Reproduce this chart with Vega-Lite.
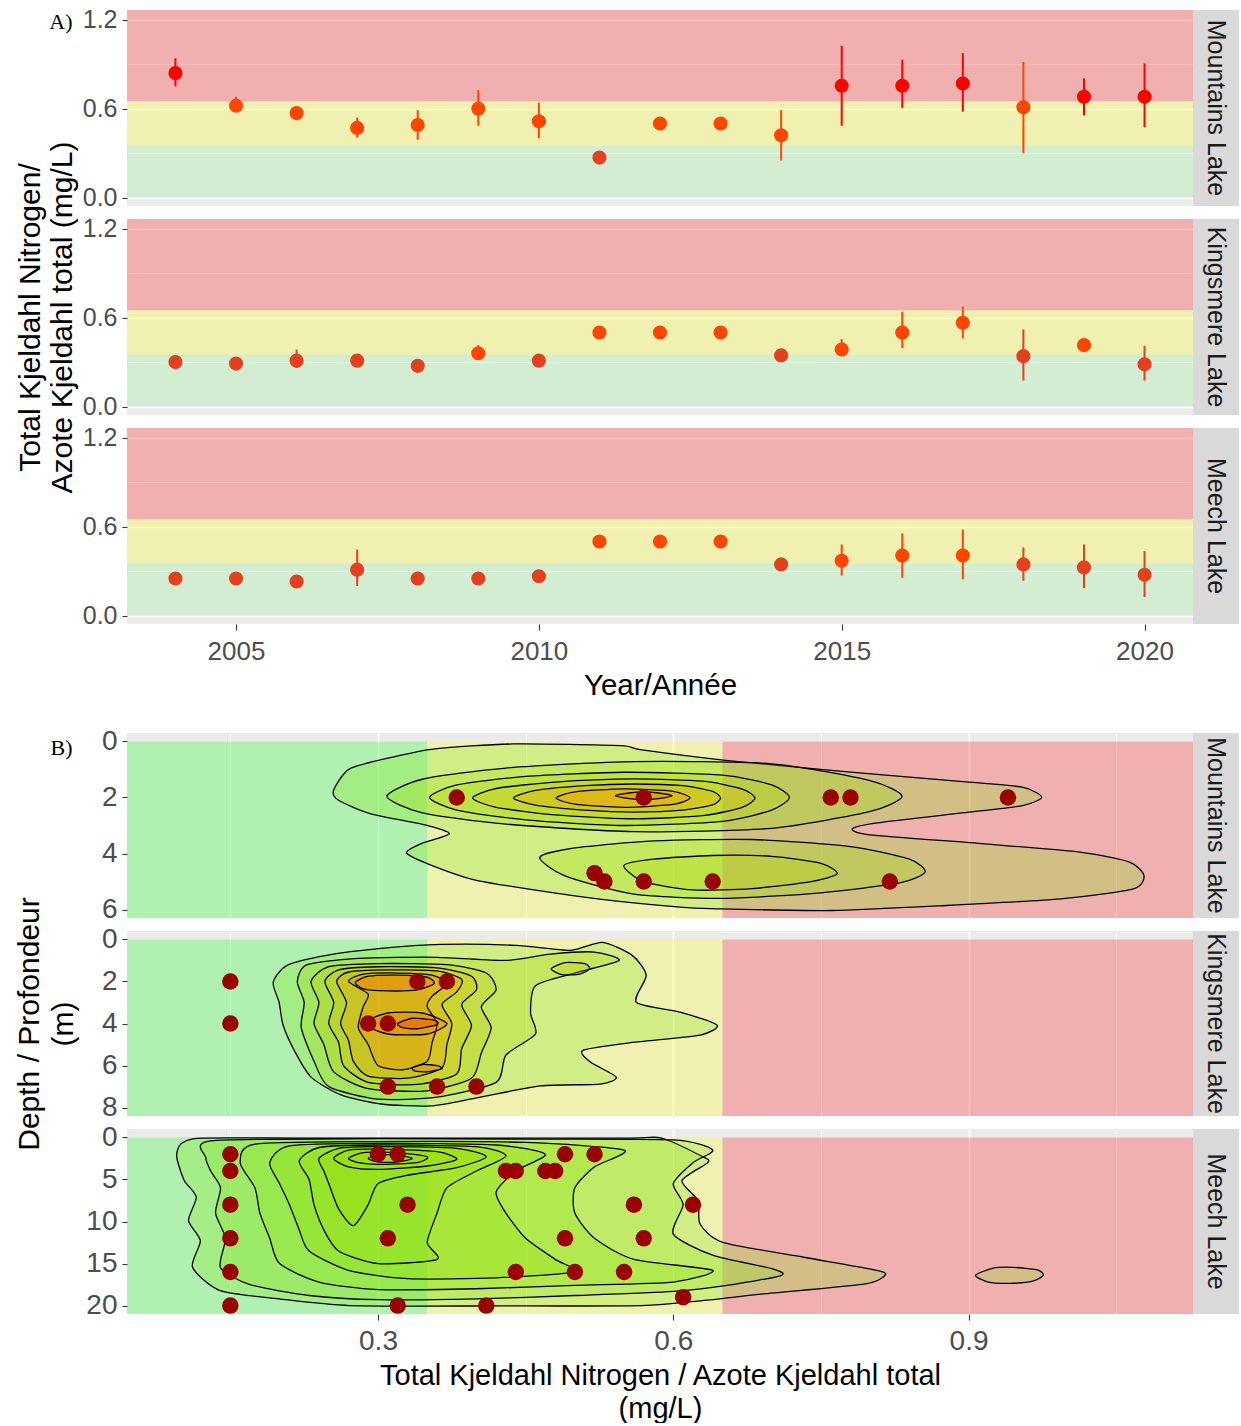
{
  "$schema": "https://vega.github.io/schema/vega-lite/v6.json",
  "background": "#ffffff",
  "padding": {"left": 14, "top": 7, "right": 0, "bottom": 0},
  "spacing": 27,
  "datasets": {
    "lakes": [{"lake": "Mountains Lake"}, {"lake": "Kingsmere Lake"}, {"lake": "Meech Lake"}],
    "bands_a": [
      {"band": "good", "lo": 0, "hi": 0.35},
      {"band": "fair", "lo": 0.35, "hi": 0.65},
      {"band": "poor", "lo": 0.65, "hi": 1.266}
    ],
    "bands_b": [
      {"band": "good", "lo": 0.045, "hi": 0.35},
      {"band": "fair", "lo": 0.35, "hi": 0.65},
      {"band": "poor", "lo": 0.65, "hi": 1.128}
    ],
    "annual": [
      {"lake": "Mountains Lake", "year": 2004, "tkn": 0.84, "lo": 0.75, "hi": 0.94},
      {"lake": "Mountains Lake", "year": 2005, "tkn": 0.62, "lo": 0.58, "hi": 0.68},
      {"lake": "Mountains Lake", "year": 2006, "tkn": 0.57},
      {"lake": "Mountains Lake", "year": 2007, "tkn": 0.47, "lo": 0.405, "hi": 0.54},
      {"lake": "Mountains Lake", "year": 2008, "tkn": 0.49, "lo": 0.39, "hi": 0.59},
      {"lake": "Mountains Lake", "year": 2009, "tkn": 0.6, "lo": 0.485, "hi": 0.725},
      {"lake": "Mountains Lake", "year": 2010, "tkn": 0.515, "lo": 0.4, "hi": 0.64},
      {"lake": "Mountains Lake", "year": 2011, "tkn": 0.27},
      {"lake": "Mountains Lake", "year": 2012, "tkn": 0.5},
      {"lake": "Mountains Lake", "year": 2013, "tkn": 0.5},
      {"lake": "Mountains Lake", "year": 2014, "tkn": 0.42, "lo": 0.25, "hi": 0.59},
      {"lake": "Mountains Lake", "year": 2015, "tkn": 0.755, "lo": 0.485, "hi": 1.025},
      {"lake": "Mountains Lake", "year": 2016, "tkn": 0.755, "lo": 0.605, "hi": 0.93},
      {"lake": "Mountains Lake", "year": 2017, "tkn": 0.77, "lo": 0.58, "hi": 0.975},
      {"lake": "Mountains Lake", "year": 2018, "tkn": 0.61, "lo": 0.3, "hi": 0.915},
      {"lake": "Mountains Lake", "year": 2019, "tkn": 0.68, "lo": 0.555, "hi": 0.805},
      {"lake": "Mountains Lake", "year": 2020, "tkn": 0.68, "lo": 0.475, "hi": 0.905},
      {"lake": "Kingsmere Lake", "year": 2004, "tkn": 0.3},
      {"lake": "Kingsmere Lake", "year": 2005, "tkn": 0.29},
      {"lake": "Kingsmere Lake", "year": 2006, "tkn": 0.31, "lo": 0.26, "hi": 0.385},
      {"lake": "Kingsmere Lake", "year": 2007, "tkn": 0.31},
      {"lake": "Kingsmere Lake", "year": 2008, "tkn": 0.275},
      {"lake": "Kingsmere Lake", "year": 2009, "tkn": 0.36, "lo": 0.33, "hi": 0.415},
      {"lake": "Kingsmere Lake", "year": 2010, "tkn": 0.31},
      {"lake": "Kingsmere Lake", "year": 2011, "tkn": 0.5},
      {"lake": "Kingsmere Lake", "year": 2012, "tkn": 0.5},
      {"lake": "Kingsmere Lake", "year": 2013, "tkn": 0.5},
      {"lake": "Kingsmere Lake", "year": 2014, "tkn": 0.345},
      {"lake": "Kingsmere Lake", "year": 2015, "tkn": 0.385, "lo": 0.34, "hi": 0.455},
      {"lake": "Kingsmere Lake", "year": 2016, "tkn": 0.5, "lo": 0.395, "hi": 0.64},
      {"lake": "Kingsmere Lake", "year": 2017, "tkn": 0.565, "lo": 0.46, "hi": 0.675},
      {"lake": "Kingsmere Lake", "year": 2018, "tkn": 0.34, "lo": 0.175, "hi": 0.52},
      {"lake": "Kingsmere Lake", "year": 2019, "tkn": 0.415},
      {"lake": "Kingsmere Lake", "year": 2020, "tkn": 0.285, "lo": 0.175, "hi": 0.41},
      {"lake": "Meech Lake", "year": 2004, "tkn": 0.25},
      {"lake": "Meech Lake", "year": 2005, "tkn": 0.25},
      {"lake": "Meech Lake", "year": 2006, "tkn": 0.23},
      {"lake": "Meech Lake", "year": 2007, "tkn": 0.31, "lo": 0.2, "hi": 0.445},
      {"lake": "Meech Lake", "year": 2008, "tkn": 0.25},
      {"lake": "Meech Lake", "year": 2009, "tkn": 0.25},
      {"lake": "Meech Lake", "year": 2010, "tkn": 0.265},
      {"lake": "Meech Lake", "year": 2011, "tkn": 0.5},
      {"lake": "Meech Lake", "year": 2012, "tkn": 0.5},
      {"lake": "Meech Lake", "year": 2013, "tkn": 0.5},
      {"lake": "Meech Lake", "year": 2014, "tkn": 0.345},
      {"lake": "Meech Lake", "year": 2015, "tkn": 0.37, "lo": 0.27, "hi": 0.48},
      {"lake": "Meech Lake", "year": 2016, "tkn": 0.405, "lo": 0.255, "hi": 0.555},
      {"lake": "Meech Lake", "year": 2017, "tkn": 0.405, "lo": 0.245, "hi": 0.58},
      {"lake": "Meech Lake", "year": 2018, "tkn": 0.345, "lo": 0.235, "hi": 0.46},
      {"lake": "Meech Lake", "year": 2019, "tkn": 0.325, "lo": 0.185, "hi": 0.48},
      {"lake": "Meech Lake", "year": 2020, "tkn": 0.275, "lo": 0.125, "hi": 0.435}
    ],
    "samples": [
      {"lake": "Mountains Lake", "tkn": 0.38, "depth": 2},
      {"lake": "Mountains Lake", "tkn": 0.57, "depth": 2},
      {"lake": "Mountains Lake", "tkn": 0.76, "depth": 2},
      {"lake": "Mountains Lake", "tkn": 0.78, "depth": 2},
      {"lake": "Mountains Lake", "tkn": 0.94, "depth": 2},
      {"lake": "Mountains Lake", "tkn": 0.52, "depth": 4.7},
      {"lake": "Mountains Lake", "tkn": 0.53, "depth": 5},
      {"lake": "Mountains Lake", "tkn": 0.57, "depth": 5},
      {"lake": "Mountains Lake", "tkn": 0.64, "depth": 5},
      {"lake": "Mountains Lake", "tkn": 0.82, "depth": 5},
      {"lake": "Kingsmere Lake", "tkn": 0.15, "depth": 2},
      {"lake": "Kingsmere Lake", "tkn": 0.34, "depth": 2},
      {"lake": "Kingsmere Lake", "tkn": 0.37, "depth": 2},
      {"lake": "Kingsmere Lake", "tkn": 0.15, "depth": 4},
      {"lake": "Kingsmere Lake", "tkn": 0.29, "depth": 4},
      {"lake": "Kingsmere Lake", "tkn": 0.31, "depth": 4},
      {"lake": "Kingsmere Lake", "tkn": 0.31, "depth": 7},
      {"lake": "Kingsmere Lake", "tkn": 0.36, "depth": 7},
      {"lake": "Kingsmere Lake", "tkn": 0.4, "depth": 7},
      {"lake": "Meech Lake", "tkn": 0.15, "depth": 2},
      {"lake": "Meech Lake", "tkn": 0.15, "depth": 4},
      {"lake": "Meech Lake", "tkn": 0.15, "depth": 8},
      {"lake": "Meech Lake", "tkn": 0.15, "depth": 12},
      {"lake": "Meech Lake", "tkn": 0.15, "depth": 16},
      {"lake": "Meech Lake", "tkn": 0.15, "depth": 20},
      {"lake": "Meech Lake", "tkn": 0.3, "depth": 2},
      {"lake": "Meech Lake", "tkn": 0.32, "depth": 2},
      {"lake": "Meech Lake", "tkn": 0.33, "depth": 8},
      {"lake": "Meech Lake", "tkn": 0.31, "depth": 12},
      {"lake": "Meech Lake", "tkn": 0.32, "depth": 20},
      {"lake": "Meech Lake", "tkn": 0.43, "depth": 4},
      {"lake": "Meech Lake", "tkn": 0.44, "depth": 4},
      {"lake": "Meech Lake", "tkn": 0.47, "depth": 4},
      {"lake": "Meech Lake", "tkn": 0.48, "depth": 4},
      {"lake": "Meech Lake", "tkn": 0.49, "depth": 2},
      {"lake": "Meech Lake", "tkn": 0.52, "depth": 2},
      {"lake": "Meech Lake", "tkn": 0.44, "depth": 16},
      {"lake": "Meech Lake", "tkn": 0.5, "depth": 16},
      {"lake": "Meech Lake", "tkn": 0.55, "depth": 16},
      {"lake": "Meech Lake", "tkn": 0.49, "depth": 12},
      {"lake": "Meech Lake", "tkn": 0.41, "depth": 20},
      {"lake": "Meech Lake", "tkn": 0.56, "depth": 8},
      {"lake": "Meech Lake", "tkn": 0.57, "depth": 12},
      {"lake": "Meech Lake", "tkn": 0.62, "depth": 8},
      {"lake": "Meech Lake", "tkn": 0.61, "depth": 19}
    ],
    "contours_m": [
      {"ring": "m1", "level": 0, "i": 1, "tkn": 0.2548, "depth": 1.754},
      {"ring": "m1", "level": 0, "i": 2, "tkn": 0.2711, "depth": 0.98},
      {"ring": "m1", "level": 0, "i": 3, "tkn": 0.3145, "depth": 0.563},
      {"ring": "m1", "level": 0, "i": 4, "tkn": 0.358, "depth": 0.267},
      {"ring": "m1", "level": 0, "i": 5, "tkn": 0.4376, "depth": 0.089},
      {"ring": "m1", "level": 0, "i": 6, "tkn": 0.5462, "depth": 0.15},
      {"ring": "m1", "level": 0, "i": 7, "tkn": 0.5664, "depth": 0.292},
      {"ring": "m1", "level": 0, "i": 8, "tkn": 0.6556, "depth": 0.684},
      {"ring": "m1", "level": 0, "i": 9, "tkn": 0.7801, "depth": 1.098},
      {"ring": "m1", "level": 0, "i": 10, "tkn": 0.9005, "depth": 1.455},
      {"ring": "m1", "level": 0, "i": 11, "tkn": 0.9546, "depth": 1.633},
      {"ring": "m1", "level": 0, "i": 12, "tkn": 0.9743, "depth": 1.989},
      {"ring": "m1", "level": 0, "i": 13, "tkn": 0.9549, "depth": 2.289},
      {"ring": "m1", "level": 0, "i": 14, "tkn": 0.9005, "depth": 2.524},
      {"ring": "m1", "level": 0, "i": 15, "tkn": 0.8072, "depth": 2.906},
      {"ring": "m1", "level": 0, "i": 16, "tkn": 0.782, "depth": 3.119},
      {"ring": "m1", "level": 0, "i": 17, "tkn": 0.7995, "depth": 3.333},
      {"ring": "m1", "level": 0, "i": 18, "tkn": 0.9161, "depth": 3.654},
      {"ring": "m1", "level": 0, "i": 19, "tkn": 1.0132, "depth": 3.95},
      {"ring": "m1", "level": 0, "i": 20, "tkn": 1.0636, "depth": 4.307},
      {"ring": "m1", "level": 0, "i": 21, "tkn": 1.0782, "depth": 4.784},
      {"ring": "m1", "level": 0, "i": 22, "tkn": 1.0675, "depth": 5.258},
      {"ring": "m1", "level": 0, "i": 23, "tkn": 0.9937, "depth": 5.615},
      {"ring": "m1", "level": 0, "i": 24, "tkn": 0.8772, "depth": 5.854},
      {"ring": "m1", "level": 0, "i": 25, "tkn": 0.7606, "depth": 6.032},
      {"ring": "m1", "level": 0, "i": 26, "tkn": 0.6442, "depth": 5.971},
      {"ring": "m1", "level": 0, "i": 27, "tkn": 0.607, "depth": 5.911},
      {"ring": "m1", "level": 0, "i": 28, "tkn": 0.5097, "depth": 5.554},
      {"ring": "m1", "level": 0, "i": 29, "tkn": 0.4012, "depth": 4.963},
      {"ring": "m1", "level": 0, "i": 30, "tkn": 0.3506, "depth": 4.367},
      {"ring": "m1", "level": 0, "i": 31, "tkn": 0.329, "depth": 3.975},
      {"ring": "m1", "level": 0, "i": 32, "tkn": 0.3435, "depth": 3.654},
      {"ring": "m1", "level": 0, "i": 33, "tkn": 0.3725, "depth": 3.298},
      {"ring": "m1", "level": 0, "i": 34, "tkn": 0.3506, "depth": 3.002},
      {"ring": "m1", "level": 0, "i": 35, "tkn": 0.2928, "depth": 2.585},
      {"ring": "m1", "level": 0, "i": 36, "tkn": 0.2603, "depth": 2.11},
      {"ring": "m2a", "level": 0.1, "i": 1, "tkn": 0.309, "depth": 1.96},
      {"ring": "m2a", "level": 0.1, "i": 2, "tkn": 0.345, "depth": 1.35},
      {"ring": "m2a", "level": 0.1, "i": 3, "tkn": 0.43, "depth": 0.95},
      {"ring": "m2a", "level": 0.1, "i": 4, "tkn": 0.56, "depth": 0.72},
      {"ring": "m2a", "level": 0.1, "i": 5, "tkn": 0.7, "depth": 0.8},
      {"ring": "m2a", "level": 0.1, "i": 6, "tkn": 0.8, "depth": 1.4},
      {"ring": "m2a", "level": 0.1, "i": 7, "tkn": 0.8325, "depth": 1.96},
      {"ring": "m2a", "level": 0.1, "i": 8, "tkn": 0.8, "depth": 2.5},
      {"ring": "m2a", "level": 0.1, "i": 9, "tkn": 0.7, "depth": 3.1},
      {"ring": "m2a", "level": 0.1, "i": 10, "tkn": 0.56, "depth": 3.22},
      {"ring": "m2a", "level": 0.1, "i": 11, "tkn": 0.43, "depth": 2.95},
      {"ring": "m2a", "level": 0.1, "i": 12, "tkn": 0.345, "depth": 2.55},
      {"ring": "m2b", "level": 0.1, "i": 1, "tkn": 0.4644, "depth": 4.13},
      {"ring": "m2b", "level": 0.1, "i": 2, "tkn": 0.5, "depth": 3.8},
      {"ring": "m2b", "level": 0.1, "i": 3, "tkn": 0.58, "depth": 3.55},
      {"ring": "m2b", "level": 0.1, "i": 4, "tkn": 0.68, "depth": 3.5},
      {"ring": "m2b", "level": 0.1, "i": 5, "tkn": 0.78, "depth": 3.75},
      {"ring": "m2b", "level": 0.1, "i": 6, "tkn": 0.84, "depth": 4.2},
      {"ring": "m2b", "level": 0.1, "i": 7, "tkn": 0.8558, "depth": 4.66},
      {"ring": "m2b", "level": 0.1, "i": 8, "tkn": 0.83, "depth": 5.05},
      {"ring": "m2b", "level": 0.1, "i": 9, "tkn": 0.75, "depth": 5.4},
      {"ring": "m2b", "level": 0.1, "i": 10, "tkn": 0.65, "depth": 5.6},
      {"ring": "m2b", "level": 0.1, "i": 11, "tkn": 0.56, "depth": 5.45},
      {"ring": "m2b", "level": 0.1, "i": 12, "tkn": 0.49, "depth": 4.8},
      {"ring": "m3a", "level": 0.22, "i": 1, "tkn": 0.3525, "depth": 2.0},
      {"ring": "m3a", "level": 0.22, "i": 2, "tkn": 0.38, "depth": 1.55},
      {"ring": "m3a", "level": 0.22, "i": 3, "tkn": 0.45, "depth": 1.25},
      {"ring": "m3a", "level": 0.22, "i": 4, "tkn": 0.55, "depth": 1.1},
      {"ring": "m3a", "level": 0.22, "i": 5, "tkn": 0.65, "depth": 1.2},
      {"ring": "m3a", "level": 0.22, "i": 6, "tkn": 0.7, "depth": 1.55},
      {"ring": "m3a", "level": 0.22, "i": 7, "tkn": 0.718, "depth": 2.0},
      {"ring": "m3a", "level": 0.22, "i": 8, "tkn": 0.7, "depth": 2.45},
      {"ring": "m3a", "level": 0.22, "i": 9, "tkn": 0.65, "depth": 2.85},
      {"ring": "m3a", "level": 0.22, "i": 10, "tkn": 0.55, "depth": 3.0},
      {"ring": "m3a", "level": 0.22, "i": 11, "tkn": 0.45, "depth": 2.8},
      {"ring": "m3a", "level": 0.22, "i": 12, "tkn": 0.38, "depth": 2.45},
      {"ring": "m3b", "level": 0.2, "i": 1, "tkn": 0.5498, "depth": 4.43},
      {"ring": "m3b", "level": 0.2, "i": 2, "tkn": 0.58, "depth": 4.2},
      {"ring": "m3b", "level": 0.2, "i": 3, "tkn": 0.64, "depth": 4.07},
      {"ring": "m3b", "level": 0.2, "i": 4, "tkn": 0.7, "depth": 4.1},
      {"ring": "m3b", "level": 0.2, "i": 5, "tkn": 0.75, "depth": 4.35},
      {"ring": "m3b", "level": 0.2, "i": 6, "tkn": 0.7665, "depth": 4.72},
      {"ring": "m3b", "level": 0.2, "i": 7, "tkn": 0.74, "depth": 5.0},
      {"ring": "m3b", "level": 0.2, "i": 8, "tkn": 0.68, "depth": 5.25},
      {"ring": "m3b", "level": 0.2, "i": 9, "tkn": 0.62, "depth": 5.3},
      {"ring": "m3b", "level": 0.2, "i": 10, "tkn": 0.57, "depth": 5.0},
      {"ring": "m4", "level": 0.42, "i": 1, "tkn": 0.396, "depth": 2.02},
      {"ring": "m4", "level": 0.42, "i": 2, "tkn": 0.42, "depth": 1.68},
      {"ring": "m4", "level": 0.42, "i": 3, "tkn": 0.48, "depth": 1.45},
      {"ring": "m4", "level": 0.42, "i": 4, "tkn": 0.56, "depth": 1.34},
      {"ring": "m4", "level": 0.42, "i": 5, "tkn": 0.63, "depth": 1.42},
      {"ring": "m4", "level": 0.42, "i": 6, "tkn": 0.67, "depth": 1.7},
      {"ring": "m4", "level": 0.42, "i": 7, "tkn": 0.683, "depth": 2.02},
      {"ring": "m4", "level": 0.42, "i": 8, "tkn": 0.67, "depth": 2.35},
      {"ring": "m4", "level": 0.42, "i": 9, "tkn": 0.63, "depth": 2.65},
      {"ring": "m4", "level": 0.42, "i": 10, "tkn": 0.56, "depth": 2.76},
      {"ring": "m4", "level": 0.42, "i": 11, "tkn": 0.48, "depth": 2.62},
      {"ring": "m4", "level": 0.42, "i": 12, "tkn": 0.42, "depth": 2.35},
      {"ring": "m5", "level": 0.58, "i": 1, "tkn": 0.4376, "depth": 2.02},
      {"ring": "m5", "level": 0.58, "i": 2, "tkn": 0.46, "depth": 1.75},
      {"ring": "m5", "level": 0.58, "i": 3, "tkn": 0.51, "depth": 1.58},
      {"ring": "m5", "level": 0.58, "i": 4, "tkn": 0.56, "depth": 1.52},
      {"ring": "m5", "level": 0.58, "i": 5, "tkn": 0.61, "depth": 1.58},
      {"ring": "m5", "level": 0.58, "i": 6, "tkn": 0.64, "depth": 1.78},
      {"ring": "m5", "level": 0.58, "i": 7, "tkn": 0.648, "depth": 2.02},
      {"ring": "m5", "level": 0.58, "i": 8, "tkn": 0.64, "depth": 2.26},
      {"ring": "m5", "level": 0.58, "i": 9, "tkn": 0.61, "depth": 2.45},
      {"ring": "m5", "level": 0.58, "i": 10, "tkn": 0.56, "depth": 2.52},
      {"ring": "m5", "level": 0.58, "i": 11, "tkn": 0.51, "depth": 2.45},
      {"ring": "m5", "level": 0.58, "i": 12, "tkn": 0.46, "depth": 2.27},
      {"ring": "m6", "level": 0.7, "i": 1, "tkn": 0.481, "depth": 2.02},
      {"ring": "m6", "level": 0.7, "i": 2, "tkn": 0.5, "depth": 1.8},
      {"ring": "m6", "level": 0.7, "i": 3, "tkn": 0.55, "depth": 1.69},
      {"ring": "m6", "level": 0.7, "i": 4, "tkn": 0.6, "depth": 1.78},
      {"ring": "m6", "level": 0.7, "i": 5, "tkn": 0.617, "depth": 2.02},
      {"ring": "m6", "level": 0.7, "i": 6, "tkn": 0.6, "depth": 2.25},
      {"ring": "m6", "level": 0.7, "i": 7, "tkn": 0.55, "depth": 2.35},
      {"ring": "m6", "level": 0.7, "i": 8, "tkn": 0.5, "depth": 2.24},
      {"ring": "m7", "level": 0.82, "i": 1, "tkn": 0.541, "depth": 1.94},
      {"ring": "m7", "level": 0.82, "i": 2, "tkn": 0.555, "depth": 1.84},
      {"ring": "m7", "level": 0.82, "i": 3, "tkn": 0.57, "depth": 1.8},
      {"ring": "m7", "level": 0.82, "i": 4, "tkn": 0.585, "depth": 1.84},
      {"ring": "m7", "level": 0.82, "i": 5, "tkn": 0.599, "depth": 1.94},
      {"ring": "m7", "level": 0.82, "i": 6, "tkn": 0.585, "depth": 2.04},
      {"ring": "m7", "level": 0.82, "i": 7, "tkn": 0.57, "depth": 2.08},
      {"ring": "m7", "level": 0.82, "i": 8, "tkn": 0.555, "depth": 2.04}
    ],
    "contours_k": [
      {"ring": "k1", "level": 0, "i": 1, "tkn": 0.1935, "depth": 2.04},
      {"ring": "k1", "level": 0, "i": 2, "tkn": 0.2077, "depth": 1.23},
      {"ring": "k1", "level": 0, "i": 3, "tkn": 0.2478, "depth": 0.76},
      {"ring": "k1", "level": 0, "i": 4, "tkn": 0.3029, "depth": 0.43},
      {"ring": "k1", "level": 0, "i": 5, "tkn": 0.3637, "depth": 0.24},
      {"ring": "k1", "level": 0, "i": 6, "tkn": 0.4397, "depth": 0.28},
      {"ring": "k1", "level": 0, "i": 7, "tkn": 0.4955, "depth": 0.52},
      {"ring": "k1", "level": 0, "i": 8, "tkn": 0.5279, "depth": 0.14},
      {"ring": "k1", "level": 0, "i": 9, "tkn": 0.5583, "depth": 0.76},
      {"ring": "k1", "level": 0, "i": 10, "tkn": 0.5725, "depth": 1.71},
      {"ring": "k1", "level": 0, "i": 11, "tkn": 0.5624, "depth": 2.99},
      {"ring": "k1", "level": 0, "i": 12, "tkn": 0.6069, "depth": 3.46},
      {"ring": "k1", "level": 0, "i": 13, "tkn": 0.6444, "depth": 4.08},
      {"ring": "k1", "level": 0, "i": 14, "tkn": 0.6272, "depth": 4.55},
      {"ring": "k1", "level": 0, "i": 15, "tkn": 0.5603, "depth": 4.89},
      {"ring": "k1", "level": 0, "i": 16, "tkn": 0.5086, "depth": 5.27},
      {"ring": "k1", "level": 0, "i": 17, "tkn": 0.5157, "depth": 5.83},
      {"ring": "k1", "level": 0, "i": 18, "tkn": 0.5421, "depth": 6.55},
      {"ring": "k1", "level": 0, "i": 19, "tkn": 0.5259, "depth": 6.88},
      {"ring": "k1", "level": 0, "i": 20, "tkn": 0.4651, "depth": 6.97},
      {"ring": "k1", "level": 0, "i": 21, "tkn": 0.4002, "depth": 7.54},
      {"ring": "k1", "level": 0, "i": 22, "tkn": 0.3536, "depth": 7.92},
      {"ring": "k1", "level": 0, "i": 23, "tkn": 0.3029, "depth": 7.83},
      {"ring": "k1", "level": 0, "i": 24, "tkn": 0.2624, "depth": 7.4},
      {"ring": "k1", "level": 0, "i": 25, "tkn": 0.232, "depth": 6.55},
      {"ring": "k1", "level": 0, "i": 26, "tkn": 0.2158, "depth": 5.36},
      {"ring": "k1", "level": 0, "i": 27, "tkn": 0.2036, "depth": 4.08},
      {"ring": "k1", "level": 0, "i": 28, "tkn": 0.1995, "depth": 2.99},
      {"ring": "k2", "level": 0.15, "i": 1, "tkn": 0.218, "depth": 2.0},
      {"ring": "k2", "level": 0.15, "i": 2, "tkn": 0.228, "depth": 1.2},
      {"ring": "k2", "level": 0.15, "i": 3, "tkn": 0.28, "depth": 0.9},
      {"ring": "k2", "level": 0.15, "i": 4, "tkn": 0.36, "depth": 0.85},
      {"ring": "k2", "level": 0.15, "i": 5, "tkn": 0.43, "depth": 1.0},
      {"ring": "k2", "level": 0.15, "i": 6, "tkn": 0.475, "depth": 0.7},
      {"ring": "k2", "level": 0.15, "i": 7, "tkn": 0.52, "depth": 0.6},
      {"ring": "k2", "level": 0.15, "i": 8, "tkn": 0.545, "depth": 1.0},
      {"ring": "k2", "level": 0.15, "i": 9, "tkn": 0.5, "depth": 1.6},
      {"ring": "k2", "level": 0.15, "i": 10, "tkn": 0.46, "depth": 2.2},
      {"ring": "k2", "level": 0.15, "i": 11, "tkn": 0.455, "depth": 3.5},
      {"ring": "k2", "level": 0.15, "i": 12, "tkn": 0.46, "depth": 4.5},
      {"ring": "k2", "level": 0.15, "i": 13, "tkn": 0.43, "depth": 5.5},
      {"ring": "k2", "level": 0.15, "i": 14, "tkn": 0.42, "depth": 6.8},
      {"ring": "k2", "level": 0.15, "i": 15, "tkn": 0.36, "depth": 7.5},
      {"ring": "k2", "level": 0.15, "i": 16, "tkn": 0.3, "depth": 7.6},
      {"ring": "k2", "level": 0.15, "i": 17, "tkn": 0.25, "depth": 7.0},
      {"ring": "k2", "level": 0.15, "i": 18, "tkn": 0.235, "depth": 5.8},
      {"ring": "k2", "level": 0.15, "i": 19, "tkn": 0.222, "depth": 4.2},
      {"ring": "k2", "level": 0.15, "i": 20, "tkn": 0.225, "depth": 3.0},
      {"ring": "k3", "level": 0.3, "i": 1, "tkn": 0.232, "depth": 2.0},
      {"ring": "k3", "level": 0.3, "i": 2, "tkn": 0.25, "depth": 1.3},
      {"ring": "k3", "level": 0.3, "i": 3, "tkn": 0.3, "depth": 1.15},
      {"ring": "k3", "level": 0.3, "i": 4, "tkn": 0.37, "depth": 1.2},
      {"ring": "k3", "level": 0.3, "i": 5, "tkn": 0.41, "depth": 1.6},
      {"ring": "k3", "level": 0.3, "i": 6, "tkn": 0.42, "depth": 2.4},
      {"ring": "k3", "level": 0.3, "i": 7, "tkn": 0.405, "depth": 3.2},
      {"ring": "k3", "level": 0.3, "i": 8, "tkn": 0.415, "depth": 4.2},
      {"ring": "k3", "level": 0.3, "i": 9, "tkn": 0.405, "depth": 5.4},
      {"ring": "k3", "level": 0.3, "i": 10, "tkn": 0.395, "depth": 6.6},
      {"ring": "k3", "level": 0.3, "i": 11, "tkn": 0.35, "depth": 7.2},
      {"ring": "k3", "level": 0.3, "i": 12, "tkn": 0.29, "depth": 7.1},
      {"ring": "k3", "level": 0.3, "i": 13, "tkn": 0.255, "depth": 6.3},
      {"ring": "k3", "level": 0.3, "i": 14, "tkn": 0.245, "depth": 5.0},
      {"ring": "k3", "level": 0.3, "i": 15, "tkn": 0.235, "depth": 4.0},
      {"ring": "k3", "level": 0.3, "i": 16, "tkn": 0.24, "depth": 3.0},
      {"ring": "k3b", "level": 0.3, "i": 1, "tkn": 0.476, "depth": 1.4},
      {"ring": "k3b", "level": 0.3, "i": 2, "tkn": 0.49, "depth": 1.1},
      {"ring": "k3b", "level": 0.3, "i": 3, "tkn": 0.51, "depth": 1.15},
      {"ring": "k3b", "level": 0.3, "i": 4, "tkn": 0.515, "depth": 1.4},
      {"ring": "k3b", "level": 0.3, "i": 5, "tkn": 0.505, "depth": 1.65},
      {"ring": "k3b", "level": 0.3, "i": 6, "tkn": 0.487, "depth": 1.68},
      {"ring": "k4", "level": 0.45, "i": 1, "tkn": 0.246, "depth": 2.0},
      {"ring": "k4", "level": 0.45, "i": 2, "tkn": 0.26, "depth": 1.45},
      {"ring": "k4", "level": 0.45, "i": 3, "tkn": 0.3, "depth": 1.3},
      {"ring": "k4", "level": 0.45, "i": 4, "tkn": 0.36, "depth": 1.35},
      {"ring": "k4", "level": 0.45, "i": 5, "tkn": 0.395, "depth": 1.75},
      {"ring": "k4", "level": 0.45, "i": 6, "tkn": 0.4, "depth": 2.4},
      {"ring": "k4", "level": 0.45, "i": 7, "tkn": 0.385, "depth": 3.1},
      {"ring": "k4", "level": 0.45, "i": 8, "tkn": 0.395, "depth": 4.1},
      {"ring": "k4", "level": 0.45, "i": 9, "tkn": 0.385, "depth": 5.2},
      {"ring": "k4", "level": 0.45, "i": 10, "tkn": 0.38, "depth": 6.4},
      {"ring": "k4", "level": 0.45, "i": 11, "tkn": 0.34, "depth": 6.9},
      {"ring": "k4", "level": 0.45, "i": 12, "tkn": 0.29, "depth": 6.8},
      {"ring": "k4", "level": 0.45, "i": 13, "tkn": 0.265, "depth": 6.0},
      {"ring": "k4", "level": 0.45, "i": 14, "tkn": 0.26, "depth": 4.9},
      {"ring": "k4", "level": 0.45, "i": 15, "tkn": 0.25, "depth": 4.0},
      {"ring": "k4", "level": 0.45, "i": 16, "tkn": 0.255, "depth": 3.0},
      {"ring": "k5", "level": 0.6, "i": 1, "tkn": 0.258, "depth": 2.0},
      {"ring": "k5", "level": 0.6, "i": 2, "tkn": 0.27, "depth": 1.55},
      {"ring": "k5", "level": 0.6, "i": 3, "tkn": 0.31, "depth": 1.45},
      {"ring": "k5", "level": 0.6, "i": 4, "tkn": 0.36, "depth": 1.5},
      {"ring": "k5", "level": 0.6, "i": 5, "tkn": 0.385, "depth": 1.9},
      {"ring": "k5", "level": 0.6, "i": 6, "tkn": 0.38, "depth": 2.5},
      {"ring": "k5", "level": 0.6, "i": 7, "tkn": 0.365, "depth": 3.1},
      {"ring": "k5", "level": 0.6, "i": 8, "tkn": 0.375, "depth": 4.0},
      {"ring": "k5", "level": 0.6, "i": 9, "tkn": 0.37, "depth": 5.0},
      {"ring": "k5", "level": 0.6, "i": 10, "tkn": 0.365, "depth": 6.1},
      {"ring": "k5", "level": 0.6, "i": 11, "tkn": 0.33, "depth": 6.6},
      {"ring": "k5", "level": 0.6, "i": 12, "tkn": 0.29, "depth": 6.5},
      {"ring": "k5", "level": 0.6, "i": 13, "tkn": 0.275, "depth": 5.8},
      {"ring": "k5", "level": 0.6, "i": 14, "tkn": 0.27, "depth": 4.8},
      {"ring": "k5", "level": 0.6, "i": 15, "tkn": 0.262, "depth": 4.0},
      {"ring": "k5", "level": 0.6, "i": 16, "tkn": 0.268, "depth": 3.0},
      {"ring": "k6", "level": 0.72, "i": 1, "tkn": 0.27, "depth": 2.0},
      {"ring": "k6", "level": 0.72, "i": 2, "tkn": 0.285, "depth": 1.65},
      {"ring": "k6", "level": 0.72, "i": 3, "tkn": 0.32, "depth": 1.6},
      {"ring": "k6", "level": 0.72, "i": 4, "tkn": 0.355, "depth": 1.7},
      {"ring": "k6", "level": 0.72, "i": 5, "tkn": 0.37, "depth": 2.1},
      {"ring": "k6", "level": 0.72, "i": 6, "tkn": 0.355, "depth": 2.7},
      {"ring": "k6", "level": 0.72, "i": 7, "tkn": 0.35, "depth": 3.2},
      {"ring": "k6", "level": 0.72, "i": 8, "tkn": 0.36, "depth": 4.0},
      {"ring": "k6", "level": 0.72, "i": 9, "tkn": 0.355, "depth": 4.9},
      {"ring": "k6", "level": 0.72, "i": 10, "tkn": 0.35, "depth": 5.8},
      {"ring": "k6", "level": 0.72, "i": 11, "tkn": 0.325, "depth": 6.2},
      {"ring": "k6", "level": 0.72, "i": 12, "tkn": 0.3, "depth": 6.0},
      {"ring": "k6", "level": 0.72, "i": 13, "tkn": 0.29, "depth": 5.0},
      {"ring": "k6", "level": 0.72, "i": 14, "tkn": 0.28, "depth": 4.2},
      {"ring": "k6", "level": 0.72, "i": 15, "tkn": 0.285, "depth": 3.2},
      {"ring": "k6", "level": 0.72, "i": 16, "tkn": 0.29, "depth": 2.6},
      {"ring": "k7a", "level": 0.85, "i": 1, "tkn": 0.277, "depth": 2.05},
      {"ring": "k7a", "level": 0.85, "i": 2, "tkn": 0.29, "depth": 1.75},
      {"ring": "k7a", "level": 0.85, "i": 3, "tkn": 0.32, "depth": 1.7},
      {"ring": "k7a", "level": 0.85, "i": 4, "tkn": 0.35, "depth": 1.8},
      {"ring": "k7a", "level": 0.85, "i": 5, "tkn": 0.357, "depth": 2.1},
      {"ring": "k7a", "level": 0.85, "i": 6, "tkn": 0.34, "depth": 2.4},
      {"ring": "k7a", "level": 0.85, "i": 7, "tkn": 0.31, "depth": 2.45},
      {"ring": "k7a", "level": 0.85, "i": 8, "tkn": 0.285, "depth": 2.35},
      {"ring": "k7b", "level": 0.85, "i": 1, "tkn": 0.285, "depth": 4.0},
      {"ring": "k7b", "level": 0.85, "i": 2, "tkn": 0.31, "depth": 3.5},
      {"ring": "k7b", "level": 0.85, "i": 3, "tkn": 0.345, "depth": 3.5},
      {"ring": "k7b", "level": 0.85, "i": 4, "tkn": 0.37, "depth": 4.0},
      {"ring": "k7b", "level": 0.85, "i": 5, "tkn": 0.35, "depth": 4.5},
      {"ring": "k7b", "level": 0.85, "i": 6, "tkn": 0.31, "depth": 4.5},
      {"ring": "k7c", "level": 0.85, "i": 1, "tkn": 0.335, "depth": 6.1},
      {"ring": "k7c", "level": 0.85, "i": 2, "tkn": 0.345, "depth": 5.95},
      {"ring": "k7c", "level": 0.85, "i": 3, "tkn": 0.36, "depth": 6.0},
      {"ring": "k7c", "level": 0.85, "i": 4, "tkn": 0.365, "depth": 6.15},
      {"ring": "k7c", "level": 0.85, "i": 5, "tkn": 0.35, "depth": 6.3},
      {"ring": "k7c", "level": 0.85, "i": 6, "tkn": 0.337, "depth": 6.25},
      {"ring": "k8", "level": 1.0, "i": 1, "tkn": 0.32, "depth": 4.0},
      {"ring": "k8", "level": 1.0, "i": 2, "tkn": 0.335, "depth": 3.75},
      {"ring": "k8", "level": 1.0, "i": 3, "tkn": 0.358, "depth": 3.85},
      {"ring": "k8", "level": 1.0, "i": 4, "tkn": 0.36, "depth": 4.05},
      {"ring": "k8", "level": 1.0, "i": 5, "tkn": 0.34, "depth": 4.25},
      {"ring": "k8", "level": 1.0, "i": 6, "tkn": 0.325, "depth": 4.2}
    ],
    "contours_e": [
      {"ring": "e1", "level": 0, "i": 1, "tkn": 0.0956, "depth": 2.38},
      {"ring": "e1", "level": 0, "i": 2, "tkn": 0.0995, "depth": 0.8},
      {"ring": "e1", "level": 0, "i": 3, "tkn": 0.1205, "depth": 0.08},
      {"ring": "e1", "level": 0, "i": 4, "tkn": 0.2218, "depth": 0.08},
      {"ring": "e1", "level": 0, "i": 5, "tkn": 0.3738, "depth": 0.08},
      {"ring": "e1", "level": 0, "i": 6, "tkn": 0.5549, "depth": 0.08},
      {"ring": "e1", "level": 0, "i": 7, "tkn": 0.588, "depth": 0.08},
      {"ring": "e1", "level": 0, "i": 8, "tkn": 0.6293, "depth": 2.26},
      {"ring": "e1", "level": 0, "i": 9, "tkn": 0.6353, "depth": 2.97},
      {"ring": "e1", "level": 0, "i": 10, "tkn": 0.6088, "depth": 5.15},
      {"ring": "e1", "level": 0, "i": 11, "tkn": 0.6252, "depth": 7.53},
      {"ring": "e1", "level": 0, "i": 12, "tkn": 0.6272, "depth": 10.3},
      {"ring": "e1", "level": 0, "i": 13, "tkn": 0.6502, "depth": 12.47},
      {"ring": "e1", "level": 0, "i": 14, "tkn": 0.7327, "depth": 14.25},
      {"ring": "e1", "level": 0, "i": 15, "tkn": 0.7996, "depth": 15.64},
      {"ring": "e1", "level": 0, "i": 16, "tkn": 0.8157, "depth": 16.24},
      {"ring": "e1", "level": 0, "i": 17, "tkn": 0.7952, "depth": 17.42},
      {"ring": "e1", "level": 0, "i": 18, "tkn": 0.6916, "depth": 18.61},
      {"ring": "e1", "level": 0, "i": 19, "tkn": 0.6293, "depth": 19.41},
      {"ring": "e1", "level": 0, "i": 20, "tkn": 0.5675, "depth": 20.0},
      {"ring": "e1", "level": 0, "i": 21, "tkn": 0.4245, "depth": 20.04},
      {"ring": "e1", "level": 0, "i": 22, "tkn": 0.2715, "depth": 20.0},
      {"ring": "e1", "level": 0, "i": 23, "tkn": 0.1995, "depth": 19.2},
      {"ring": "e1", "level": 0, "i": 24, "tkn": 0.1397, "depth": 18.22},
      {"ring": "e1", "level": 0, "i": 25, "tkn": 0.1116, "depth": 15.44},
      {"ring": "e1", "level": 0, "i": 26, "tkn": 0.1195, "depth": 12.28},
      {"ring": "e1", "level": 0, "i": 27, "tkn": 0.1075, "depth": 9.9},
      {"ring": "e1", "level": 0, "i": 28, "tkn": 0.1154, "depth": 7.09},
      {"ring": "e1", "level": 0, "i": 29, "tkn": 0.1033, "depth": 5.15},
      {"ring": "e1b", "level": 0, "i": 1, "tkn": 0.907, "depth": 16.4},
      {"ring": "e1b", "level": 0, "i": 2, "tkn": 0.925, "depth": 15.55},
      {"ring": "e1b", "level": 0, "i": 3, "tkn": 0.945, "depth": 15.45},
      {"ring": "e1b", "level": 0, "i": 4, "tkn": 0.97, "depth": 15.75},
      {"ring": "e1b", "level": 0, "i": 5, "tkn": 0.976, "depth": 16.4},
      {"ring": "e1b", "level": 0, "i": 6, "tkn": 0.965, "depth": 17.1},
      {"ring": "e1b", "level": 0, "i": 7, "tkn": 0.942, "depth": 17.35},
      {"ring": "e1b", "level": 0, "i": 8, "tkn": 0.92, "depth": 17.2},
      {"ring": "e2", "level": 0.02, "i": 1, "tkn": 0.125, "depth": 2.4},
      {"ring": "e2", "level": 0.02, "i": 2, "tkn": 0.13, "depth": 0.4},
      {"ring": "e2", "level": 0.02, "i": 3, "tkn": 0.3, "depth": 0.15},
      {"ring": "e2", "level": 0.02, "i": 4, "tkn": 0.45, "depth": 0.2},
      {"ring": "e2", "level": 0.02, "i": 5, "tkn": 0.6, "depth": 0.3},
      {"ring": "e2", "level": 0.02, "i": 6, "tkn": 0.64, "depth": 1.5},
      {"ring": "e2", "level": 0.02, "i": 7, "tkn": 0.62, "depth": 3.0},
      {"ring": "e2", "level": 0.02, "i": 8, "tkn": 0.6, "depth": 5.5},
      {"ring": "e2", "level": 0.02, "i": 9, "tkn": 0.61, "depth": 8.0},
      {"ring": "e2", "level": 0.02, "i": 10, "tkn": 0.6, "depth": 11.5},
      {"ring": "e2", "level": 0.02, "i": 11, "tkn": 0.64, "depth": 14.0},
      {"ring": "e2", "level": 0.02, "i": 12, "tkn": 0.7, "depth": 15.6},
      {"ring": "e2", "level": 0.02, "i": 13, "tkn": 0.71, "depth": 16.4},
      {"ring": "e2", "level": 0.02, "i": 14, "tkn": 0.66, "depth": 17.5},
      {"ring": "e2", "level": 0.02, "i": 15, "tkn": 0.6, "depth": 18.3},
      {"ring": "e2", "level": 0.02, "i": 16, "tkn": 0.5, "depth": 18.8},
      {"ring": "e2", "level": 0.02, "i": 17, "tkn": 0.4, "depth": 19.2},
      {"ring": "e2", "level": 0.02, "i": 18, "tkn": 0.3, "depth": 19.3},
      {"ring": "e2", "level": 0.02, "i": 19, "tkn": 0.23, "depth": 18.8},
      {"ring": "e2", "level": 0.02, "i": 20, "tkn": 0.17, "depth": 17.5},
      {"ring": "e2", "level": 0.02, "i": 21, "tkn": 0.14, "depth": 15.5},
      {"ring": "e2", "level": 0.02, "i": 22, "tkn": 0.145, "depth": 12.0},
      {"ring": "e2", "level": 0.02, "i": 23, "tkn": 0.135, "depth": 9.0},
      {"ring": "e2", "level": 0.02, "i": 24, "tkn": 0.14, "depth": 6.0},
      {"ring": "e2", "level": 0.02, "i": 25, "tkn": 0.13, "depth": 4.0},
      {"ring": "e3", "level": 0.04, "i": 1, "tkn": 0.16, "depth": 3.0},
      {"ring": "e3", "level": 0.04, "i": 2, "tkn": 0.175, "depth": 0.8},
      {"ring": "e3", "level": 0.04, "i": 3, "tkn": 0.3, "depth": 0.5},
      {"ring": "e3", "level": 0.04, "i": 4, "tkn": 0.45, "depth": 0.6},
      {"ring": "e3", "level": 0.04, "i": 5, "tkn": 0.55, "depth": 1.5},
      {"ring": "e3", "level": 0.04, "i": 6, "tkn": 0.52, "depth": 3.5},
      {"ring": "e3", "level": 0.04, "i": 7, "tkn": 0.5, "depth": 6.0},
      {"ring": "e3", "level": 0.04, "i": 8, "tkn": 0.5, "depth": 9.0},
      {"ring": "e3", "level": 0.04, "i": 9, "tkn": 0.52, "depth": 12.0},
      {"ring": "e3", "level": 0.04, "i": 10, "tkn": 0.56, "depth": 14.5},
      {"ring": "e3", "level": 0.04, "i": 11, "tkn": 0.64, "depth": 15.8},
      {"ring": "e3", "level": 0.04, "i": 12, "tkn": 0.6, "depth": 17.2},
      {"ring": "e3", "level": 0.04, "i": 13, "tkn": 0.5, "depth": 17.6},
      {"ring": "e3", "level": 0.04, "i": 14, "tkn": 0.4, "depth": 18.0},
      {"ring": "e3", "level": 0.04, "i": 15, "tkn": 0.3, "depth": 18.1},
      {"ring": "e3", "level": 0.04, "i": 16, "tkn": 0.24, "depth": 17.2},
      {"ring": "e3", "level": 0.04, "i": 17, "tkn": 0.2, "depth": 15.0},
      {"ring": "e3", "level": 0.04, "i": 18, "tkn": 0.19, "depth": 12.0},
      {"ring": "e3", "level": 0.04, "i": 19, "tkn": 0.18, "depth": 9.0},
      {"ring": "e3", "level": 0.04, "i": 20, "tkn": 0.175, "depth": 6.0},
      {"ring": "e4", "level": 0.06, "i": 1, "tkn": 0.19, "depth": 3.0},
      {"ring": "e4", "level": 0.06, "i": 2, "tkn": 0.21, "depth": 1.0},
      {"ring": "e4", "level": 0.06, "i": 3, "tkn": 0.3, "depth": 0.7},
      {"ring": "e4", "level": 0.06, "i": 4, "tkn": 0.42, "depth": 0.9},
      {"ring": "e4", "level": 0.06, "i": 5, "tkn": 0.47, "depth": 2.0},
      {"ring": "e4", "level": 0.06, "i": 6, "tkn": 0.44, "depth": 4.0},
      {"ring": "e4", "level": 0.06, "i": 7, "tkn": 0.42, "depth": 6.5},
      {"ring": "e4", "level": 0.06, "i": 8, "tkn": 0.43, "depth": 9.0},
      {"ring": "e4", "level": 0.06, "i": 9, "tkn": 0.45, "depth": 12.0},
      {"ring": "e4", "level": 0.06, "i": 10, "tkn": 0.48, "depth": 14.5},
      {"ring": "e4", "level": 0.06, "i": 11, "tkn": 0.5, "depth": 16.0},
      {"ring": "e4", "level": 0.06, "i": 12, "tkn": 0.42, "depth": 16.7},
      {"ring": "e4", "level": 0.06, "i": 13, "tkn": 0.33, "depth": 16.8},
      {"ring": "e4", "level": 0.06, "i": 14, "tkn": 0.27, "depth": 15.8},
      {"ring": "e4", "level": 0.06, "i": 15, "tkn": 0.23, "depth": 13.5},
      {"ring": "e4", "level": 0.06, "i": 16, "tkn": 0.22, "depth": 11.0},
      {"ring": "e4", "level": 0.06, "i": 17, "tkn": 0.21, "depth": 8.0},
      {"ring": "e4", "level": 0.06, "i": 18, "tkn": 0.2, "depth": 5.5},
      {"ring": "e5", "level": 0.08, "i": 1, "tkn": 0.22, "depth": 2.8},
      {"ring": "e5", "level": 0.08, "i": 2, "tkn": 0.24, "depth": 1.2},
      {"ring": "e5", "level": 0.08, "i": 3, "tkn": 0.3, "depth": 0.9},
      {"ring": "e5", "level": 0.08, "i": 4, "tkn": 0.4, "depth": 1.1},
      {"ring": "e5", "level": 0.08, "i": 5, "tkn": 0.43, "depth": 2.2},
      {"ring": "e5", "level": 0.08, "i": 6, "tkn": 0.4, "depth": 4.0},
      {"ring": "e5", "level": 0.08, "i": 7, "tkn": 0.37, "depth": 6.0},
      {"ring": "e5", "level": 0.08, "i": 8, "tkn": 0.36, "depth": 9.0},
      {"ring": "e5", "level": 0.08, "i": 9, "tkn": 0.35, "depth": 12.5},
      {"ring": "e5", "level": 0.08, "i": 10, "tkn": 0.36, "depth": 14.5},
      {"ring": "e5", "level": 0.08, "i": 11, "tkn": 0.3, "depth": 15.0},
      {"ring": "e5", "level": 0.08, "i": 12, "tkn": 0.26, "depth": 13.5},
      {"ring": "e5", "level": 0.08, "i": 13, "tkn": 0.245, "depth": 11.0},
      {"ring": "e5", "level": 0.08, "i": 14, "tkn": 0.235, "depth": 8.0},
      {"ring": "e5", "level": 0.08, "i": 15, "tkn": 0.23, "depth": 5.0},
      {"ring": "e6", "level": 0.1, "i": 1, "tkn": 0.24, "depth": 2.5},
      {"ring": "e6", "level": 0.1, "i": 2, "tkn": 0.26, "depth": 1.3},
      {"ring": "e6", "level": 0.1, "i": 3, "tkn": 0.3, "depth": 1.1},
      {"ring": "e6", "level": 0.1, "i": 4, "tkn": 0.38, "depth": 1.3},
      {"ring": "e6", "level": 0.1, "i": 5, "tkn": 0.41, "depth": 2.3},
      {"ring": "e6", "level": 0.1, "i": 6, "tkn": 0.38, "depth": 3.6},
      {"ring": "e6", "level": 0.1, "i": 7, "tkn": 0.33, "depth": 4.5},
      {"ring": "e6", "level": 0.1, "i": 8, "tkn": 0.3, "depth": 5.5},
      {"ring": "e6", "level": 0.1, "i": 9, "tkn": 0.29, "depth": 8.0},
      {"ring": "e6", "level": 0.1, "i": 10, "tkn": 0.275, "depth": 10.5},
      {"ring": "e6", "level": 0.1, "i": 11, "tkn": 0.26, "depth": 8.5},
      {"ring": "e6", "level": 0.1, "i": 12, "tkn": 0.25, "depth": 5.5},
      {"ring": "e6", "level": 0.1, "i": 13, "tkn": 0.245, "depth": 4.0},
      {"ring": "e7", "level": 0.12, "i": 1, "tkn": 0.255, "depth": 2.5},
      {"ring": "e7", "level": 0.12, "i": 2, "tkn": 0.27, "depth": 1.5},
      {"ring": "e7", "level": 0.12, "i": 3, "tkn": 0.3, "depth": 1.4},
      {"ring": "e7", "level": 0.12, "i": 4, "tkn": 0.36, "depth": 1.7},
      {"ring": "e7", "level": 0.12, "i": 5, "tkn": 0.38, "depth": 2.6},
      {"ring": "e7", "level": 0.12, "i": 6, "tkn": 0.35, "depth": 3.4},
      {"ring": "e7", "level": 0.12, "i": 7, "tkn": 0.3, "depth": 3.8},
      {"ring": "e7", "level": 0.12, "i": 8, "tkn": 0.27, "depth": 3.5},
      {"ring": "e8", "level": 0.14, "i": 1, "tkn": 0.27, "depth": 2.5},
      {"ring": "e8", "level": 0.14, "i": 2, "tkn": 0.285, "depth": 1.8},
      {"ring": "e8", "level": 0.14, "i": 3, "tkn": 0.32, "depth": 1.8},
      {"ring": "e8", "level": 0.14, "i": 4, "tkn": 0.35, "depth": 2.3},
      {"ring": "e8", "level": 0.14, "i": 5, "tkn": 0.34, "depth": 3.0},
      {"ring": "e8", "level": 0.14, "i": 6, "tkn": 0.3, "depth": 3.2},
      {"ring": "e8", "level": 0.14, "i": 7, "tkn": 0.28, "depth": 3.0},
      {"ring": "e9", "level": 0.16, "i": 1, "tkn": 0.29, "depth": 2.5},
      {"ring": "e9", "level": 0.16, "i": 2, "tkn": 0.3, "depth": 2.1},
      {"ring": "e9", "level": 0.16, "i": 3, "tkn": 0.32, "depth": 2.1},
      {"ring": "e9", "level": 0.16, "i": 4, "tkn": 0.335, "depth": 2.5},
      {"ring": "e9", "level": 0.16, "i": 5, "tkn": 0.32, "depth": 2.9},
      {"ring": "e9", "level": 0.16, "i": 6, "tkn": 0.3, "depth": 2.9}
    ]
  },
  "vconcat": [
    {
      "bounds": "flush",
      "spacing": 13,
      "vconcat": [
        {
          "width": 1066, "height": 196,
          "layer": [
            {
              "data": {"name": "bands_a"},
              "mark": {"type": "rect"},
              "encoding": {
                "x": {"datum": 2003.2, "type": "quantitative", "scale": {"domain": [2003.2, 2020.8], "nice": false, "zero": false},
                  "axis": {"values": [2005, 2007.5, 2010, 2012.5, 2015, 2017.5, 2020], "labels": false, "ticks": false, "title": null,
                    "gridWidth": {"condition": {"test": "datum.value % 5 === 0", "value": 1.6}, "value": 0.8}}},
                "x2": {"datum": 2020.8},
                "y": {"field": "lo", "type": "quantitative", "scale": {"domain": [-0.057, 1.266], "nice": false, "zero": false},
                  "axis": {"values": [0, 0.3, 0.6, 0.9, 1.2], "format": ".1f",
                    "labelExpr": "abs(datum.value / 0.6 - round(datum.value / 0.6)) < 0.001 ? datum.label : ''",
                    "labelFontSize": 25, "labelPadding": 5, "tickSize": 5, "labelOverlap": false, "labelFlush": false,
                    "tickOpacity": {"condition": {"test": "abs(datum.value / 0.6 - round(datum.value / 0.6)) < 0.001", "value": 1}, "value": 0},
                    "gridWidth": {"condition": {"test": "abs(datum.value / 0.6 - round(datum.value / 0.6)) < 0.001", "value": 1.6}, "value": 0.8},
                    "title": "A)", "titleAngle": 0, "titleAlign": "right", "titleBaseline": "middle", "titleX": -55, "titleY": 11,
                    "titleFont": "Liberation Serif", "titleFontSize": 22, "titleColor": "#000000"}},
                "y2": {"field": "hi"},
                "fill": {"field": "band", "type": "nominal", "scale": {"domain": ["good", "fair", "poor"], "range": ["rgba(0,255,0,0.1)", "rgba(255,255,0,0.25)", "rgba(255,0,0,0.25)"]}, "legend": null}
              }
            },
            {
              "data": {"name": "annual"},
              "transform": [{"filter": "datum.lake === 'Mountains Lake' && isValid(datum.lo)"}],
              "mark": {"type": "rule", "strokeWidth": 2},
              "encoding": {
                "x": {"field": "year", "type": "quantitative"},
                "y": {"field": "lo", "type": "quantitative"},
                "y2": {"field": "hi"},
                "color": {"field": "tkn", "type": "quantitative", "scale": {"type": "threshold", "domain": [0.35, 0.65], "range": ["#e2401f", "#ff4500", "#ff0000"]}, "legend": null}
              }
            },
            {
              "data": {"name": "annual"},
              "transform": [{"filter": "datum.lake === 'Mountains Lake'"}],
              "mark": {"type": "point", "filled": true, "size": 200, "opacity": 1},
              "encoding": {
                "x": {"field": "year", "type": "quantitative"},
                "y": {"field": "tkn", "type": "quantitative"},
                "color": {"field": "tkn", "type": "quantitative", "scale": {"type": "threshold", "domain": [0.35, 0.65], "range": ["#e2401f", "#ff4500", "#ff0000"]}, "legend": null}
              }
            },
            {
              "data": {"name": "lakes"},
              "transform": [{"filter": "datum.lake === 'Mountains Lake'"}],
              "mark": {"type": "rect", "fill": "#d9d9d9"},
              "encoding": {"x": {"datum": 2020.8}, "x2": {"datum": 2021.56}, "y": {"datum": -0.057}, "y2": {"datum": 1.266}}
            },
            {
              "data": {"name": "lakes"},
              "transform": [{"filter": "datum.lake === 'Mountains Lake'"}],
              "mark": {"type": "text", "angle": 90, "fontSize": 25, "color": "#1a1a1a", "align": "center", "baseline": "middle"},
              "encoding": {"x": {"datum": 2021.18}, "y": {"datum": 0.6045}, "text": {"field": "lake"}}
            }
          ]
        },
        {
          "width": 1066, "height": 196,
          "layer": [
            {
              "data": {"name": "bands_a"},
              "mark": {"type": "rect"},
              "encoding": {
                "x": {"datum": 2003.2, "type": "quantitative", "scale": {"domain": [2003.2, 2020.8], "nice": false, "zero": false},
                  "axis": {"values": [2005, 2007.5, 2010, 2012.5, 2015, 2017.5, 2020], "labels": false, "ticks": false, "title": null,
                    "gridWidth": {"condition": {"test": "datum.value % 5 === 0", "value": 1.6}, "value": 0.8}}},
                "x2": {"datum": 2020.8},
                "y": {"field": "lo", "type": "quantitative", "scale": {"domain": [-0.057, 1.266], "nice": false, "zero": false},
                  "axis": {"values": [0, 0.3, 0.6, 0.9, 1.2], "format": ".1f",
                    "labelExpr": "abs(datum.value / 0.6 - round(datum.value / 0.6)) < 0.001 ? datum.label : ''",
                    "labelFontSize": 25, "labelPadding": 5, "tickSize": 5, "labelOverlap": false, "labelFlush": false,
                    "tickOpacity": {"condition": {"test": "abs(datum.value / 0.6 - round(datum.value / 0.6)) < 0.001", "value": 1}, "value": 0},
                    "gridWidth": {"condition": {"test": "abs(datum.value / 0.6 - round(datum.value / 0.6)) < 0.001", "value": 1.6}, "value": 0.8},
                    "title": ["Total Kjeldahl Nitrogen/", "Azote Kjeldahl total (mg/L)"], "titleFontSize": 30, "titleLineHeight": 32, "titlePadding": 5}},
                "y2": {"field": "hi"},
                "fill": {"field": "band", "type": "nominal", "scale": {"domain": ["good", "fair", "poor"], "range": ["rgba(0,255,0,0.1)", "rgba(255,255,0,0.25)", "rgba(255,0,0,0.25)"]}, "legend": null}
              }
            },
            {
              "data": {"name": "annual"},
              "transform": [{"filter": "datum.lake === 'Kingsmere Lake' && isValid(datum.lo)"}],
              "mark": {"type": "rule", "strokeWidth": 2},
              "encoding": {
                "x": {"field": "year", "type": "quantitative"},
                "y": {"field": "lo", "type": "quantitative"},
                "y2": {"field": "hi"},
                "color": {"field": "tkn", "type": "quantitative", "scale": {"type": "threshold", "domain": [0.35, 0.65], "range": ["#e2401f", "#ff4500", "#ff0000"]}, "legend": null}
              }
            },
            {
              "data": {"name": "annual"},
              "transform": [{"filter": "datum.lake === 'Kingsmere Lake'"}],
              "mark": {"type": "point", "filled": true, "size": 200, "opacity": 1},
              "encoding": {
                "x": {"field": "year", "type": "quantitative"},
                "y": {"field": "tkn", "type": "quantitative"},
                "color": {"field": "tkn", "type": "quantitative", "scale": {"type": "threshold", "domain": [0.35, 0.65], "range": ["#e2401f", "#ff4500", "#ff0000"]}, "legend": null}
              }
            },
            {
              "data": {"name": "lakes"},
              "transform": [{"filter": "datum.lake === 'Kingsmere Lake'"}],
              "mark": {"type": "rect", "fill": "#d9d9d9"},
              "encoding": {"x": {"datum": 2020.8}, "x2": {"datum": 2021.56}, "y": {"datum": -0.057}, "y2": {"datum": 1.266}}
            },
            {
              "data": {"name": "lakes"},
              "transform": [{"filter": "datum.lake === 'Kingsmere Lake'"}],
              "mark": {"type": "text", "angle": 90, "fontSize": 25, "color": "#1a1a1a", "align": "center", "baseline": "middle"},
              "encoding": {"x": {"datum": 2021.18}, "y": {"datum": 0.6045}, "text": {"field": "lake"}}
            }
          ]
        },
        {
          "width": 1066, "height": 196,
          "layer": [
            {
              "data": {"name": "bands_a"},
              "mark": {"type": "rect"},
              "encoding": {
                "x": {"datum": 2003.2, "type": "quantitative", "scale": {"domain": [2003.2, 2020.8], "nice": false, "zero": false},
                  "axis": {"values": [2005, 2007.5, 2010, 2012.5, 2015, 2017.5, 2020], "format": "d",
                    "labelExpr": "datum.value % 5 === 0 ? datum.label : ''",
                    "labelFontSize": 26, "labelPadding": 8, "tickSize": 6, "labelOverlap": false, "labelFlush": false,
                    "tickOpacity": {"condition": {"test": "datum.value % 5 === 0", "value": 1}, "value": 0},
                    "gridWidth": {"condition": {"test": "datum.value % 5 === 0", "value": 1.6}, "value": 0.8},
                    "title": "Year/Année", "titleFontSize": 29.5, "titlePadding": 7}},
                "x2": {"datum": 2020.8},
                "y": {"field": "lo", "type": "quantitative", "scale": {"domain": [-0.057, 1.266], "nice": false, "zero": false},
                  "axis": {"values": [0, 0.3, 0.6, 0.9, 1.2], "format": ".1f",
                    "labelExpr": "abs(datum.value / 0.6 - round(datum.value / 0.6)) < 0.001 ? datum.label : ''",
                    "labelFontSize": 25, "labelPadding": 5, "tickSize": 5, "labelOverlap": false, "labelFlush": false,
                    "tickOpacity": {"condition": {"test": "abs(datum.value / 0.6 - round(datum.value / 0.6)) < 0.001", "value": 1}, "value": 0},
                    "gridWidth": {"condition": {"test": "abs(datum.value / 0.6 - round(datum.value / 0.6)) < 0.001", "value": 1.6}, "value": 0.8},
                    "title": null}},
                "y2": {"field": "hi"},
                "fill": {"field": "band", "type": "nominal", "scale": {"domain": ["good", "fair", "poor"], "range": ["rgba(0,255,0,0.1)", "rgba(255,255,0,0.25)", "rgba(255,0,0,0.25)"]}, "legend": null}
              }
            },
            {
              "data": {"name": "annual"},
              "transform": [{"filter": "datum.lake === 'Meech Lake' && isValid(datum.lo)"}],
              "mark": {"type": "rule", "strokeWidth": 2},
              "encoding": {
                "x": {"field": "year", "type": "quantitative"},
                "y": {"field": "lo", "type": "quantitative"},
                "y2": {"field": "hi"},
                "color": {"field": "tkn", "type": "quantitative", "scale": {"type": "threshold", "domain": [0.35, 0.65], "range": ["#e2401f", "#ff4500", "#ff0000"]}, "legend": null}
              }
            },
            {
              "data": {"name": "annual"},
              "transform": [{"filter": "datum.lake === 'Meech Lake'"}],
              "mark": {"type": "point", "filled": true, "size": 200, "opacity": 1},
              "encoding": {
                "x": {"field": "year", "type": "quantitative"},
                "y": {"field": "tkn", "type": "quantitative"},
                "color": {"field": "tkn", "type": "quantitative", "scale": {"type": "threshold", "domain": [0.35, 0.65], "range": ["#e2401f", "#ff4500", "#ff0000"]}, "legend": null}
              }
            },
            {
              "data": {"name": "lakes"},
              "transform": [{"filter": "datum.lake === 'Meech Lake'"}],
              "mark": {"type": "rect", "fill": "#d9d9d9"},
              "encoding": {"x": {"datum": 2020.8}, "x2": {"datum": 2021.56}, "y": {"datum": -0.057}, "y2": {"datum": 1.266}}
            },
            {
              "data": {"name": "lakes"},
              "transform": [{"filter": "datum.lake === 'Meech Lake'"}],
              "mark": {"type": "text", "angle": 90, "fontSize": 25, "color": "#1a1a1a", "align": "center", "baseline": "middle"},
              "encoding": {"x": {"datum": 2021.18}, "y": {"datum": 0.6045}, "text": {"field": "lake"}}
            }
          ]
        }
      ]
    },
    {
      "bounds": "flush",
      "spacing": 13,
      "vconcat": [
        {
          "width": 1066, "height": 185,
          "layer": [
            {
              "data": {"name": "bands_b"},
              "mark": {"type": "rect"},
              "encoding": {
                "x": {"field": "lo", "type": "quantitative", "scale": {"domain": [0.045, 1.128], "nice": false, "zero": false},
                  "axis": {"values": [0.15, 0.3, 0.45, 0.6, 0.75, 0.9, 1.05], "labels": false, "ticks": false, "title": null,
                    "gridWidth": {"condition": {"test": "abs(datum.value / 0.3 - round(datum.value / 0.3)) < 0.001", "value": 1.6}, "value": 0.8}}},
                "x2": {"field": "hi"},
                "y": {"datum": 0, "type": "quantitative", "scale": {"domain": [-0.3, 6.3], "reverse": true, "nice": false, "zero": false},
                  "axis": {"values": [0, 1, 2, 3, 4, 5, 6], "format": "d",
                    "labelExpr": "datum.value % 2 === 0 ? datum.label : ''",
                    "labelFontSize": 28, "labelPadding": 5, "tickSize": 5, "labelOverlap": false, "labelFlush": false,
                    "tickOpacity": {"condition": {"test": "datum.value % 2 === 0", "value": 1}, "value": 0},
                    "gridWidth": {"condition": {"test": "datum.value % 2 === 0", "value": 1.6}, "value": 0.8},
                    "title": "B)", "titleAngle": 0, "titleAlign": "right", "titleBaseline": "middle", "titleX": -55, "titleY": 14,
                    "titleFont": "Liberation Serif", "titleFontSize": 22, "titleColor": "#000000"}},
                "y2": {"datum": 6.3},
                "color": {"field": "band", "type": "nominal", "scale": {"domain": ["good", "fair", "poor"], "range": ["rgba(0,255,0,0.25)", "rgba(255,255,0,0.25)", "rgba(255,0,0,0.25)"]}, "legend": null}
              }
            },
            {
              "data": {"name": "contours_m"},
              "mark": {"type": "line", "interpolate": "cardinal-closed", "tension": 0.3, "stroke": "#000000", "strokeWidth": 1.3, "fillOpacity": 0.28},
              "encoding": {
                "x": {"field": "tkn", "type": "quantitative"},
                "y": {"field": "depth", "type": "quantitative"},
                "detail": {"field": "ring", "type": "nominal"},
                "order": {"field": "i", "type": "quantitative"},
                "fill": {"field": "level", "type": "quantitative", "scale": {"domain": [0, 0.35, 0.7, 1], "range": ["#80e614", "#c8c800", "#ff8c00", "#ff1a00"]}, "legend": null}
              }
            },
            {
              "data": {"name": "samples"},
              "transform": [{"filter": "datum.lake === 'Mountains Lake'"}],
              "mark": {"type": "point", "filled": true, "size": 270, "color": "#990000", "opacity": 1},
              "encoding": {"x": {"field": "tkn", "type": "quantitative"}, "y": {"field": "depth", "type": "quantitative"}}
            },
            {
              "data": {"name": "lakes"},
              "transform": [{"filter": "datum.lake === 'Mountains Lake'"}],
              "mark": {"type": "rect", "fill": "#d9d9d9"},
              "encoding": {"x": {"datum": 1.128}, "x2": {"datum": 1.1746}, "y": {"datum": -0.3}, "y2": {"datum": 6.3}}
            },
            {
              "data": {"name": "lakes"},
              "transform": [{"filter": "datum.lake === 'Mountains Lake'"}],
              "mark": {"type": "text", "angle": 90, "fontSize": 25, "color": "#1a1a1a", "align": "center", "baseline": "middle"},
              "encoding": {"x": {"datum": 1.1513}, "y": {"datum": 3.0}, "text": {"field": "lake"}}
            }
          ]
        },
        {
          "width": 1066, "height": 185,
          "layer": [
            {
              "data": {"name": "bands_b"},
              "mark": {"type": "rect"},
              "encoding": {
                "x": {"field": "lo", "type": "quantitative", "scale": {"domain": [0.045, 1.128], "nice": false, "zero": false},
                  "axis": {"values": [0.15, 0.3, 0.45, 0.6, 0.75, 0.9, 1.05], "labels": false, "ticks": false, "title": null,
                    "gridWidth": {"condition": {"test": "abs(datum.value / 0.3 - round(datum.value / 0.3)) < 0.001", "value": 1.6}, "value": 0.8}}},
                "x2": {"field": "hi"},
                "y": {"datum": 0, "type": "quantitative", "scale": {"domain": [-0.4, 8.4], "reverse": true, "nice": false, "zero": false},
                  "axis": {"values": [0, 1, 2, 3, 4, 5, 6, 7, 8], "format": "d",
                    "labelExpr": "datum.value % 2 === 0 ? datum.label : ''",
                    "labelFontSize": 28, "labelPadding": 5, "tickSize": 5, "labelOverlap": false, "labelFlush": false,
                    "tickOpacity": {"condition": {"test": "datum.value % 2 === 0", "value": 1}, "value": 0},
                    "gridWidth": {"condition": {"test": "datum.value % 2 === 0", "value": 1.6}, "value": 0.8},
                    "title": ["Depth / Profondeur", "(m)"], "titleFontSize": 30, "titleLineHeight": 34, "titlePadding": 23}},
                "y2": {"datum": 8.4},
                "color": {"field": "band", "type": "nominal", "scale": {"domain": ["good", "fair", "poor"], "range": ["rgba(0,255,0,0.25)", "rgba(255,255,0,0.25)", "rgba(255,0,0,0.25)"]}, "legend": null}
              }
            },
            {
              "data": {"name": "contours_k"},
              "mark": {"type": "line", "interpolate": "cardinal-closed", "tension": 0.3, "stroke": "#000000", "strokeWidth": 1.3, "fillOpacity": 0.28},
              "encoding": {
                "x": {"field": "tkn", "type": "quantitative"},
                "y": {"field": "depth", "type": "quantitative"},
                "detail": {"field": "ring", "type": "nominal"},
                "order": {"field": "i", "type": "quantitative"},
                "fill": {"field": "level", "type": "quantitative", "scale": {"domain": [0, 0.35, 0.7, 1], "range": ["#80e614", "#c8c800", "#ff8c00", "#ff1a00"]}, "legend": null}
              }
            },
            {
              "data": {"name": "samples"},
              "transform": [{"filter": "datum.lake === 'Kingsmere Lake'"}],
              "mark": {"type": "point", "filled": true, "size": 270, "color": "#990000", "opacity": 1},
              "encoding": {"x": {"field": "tkn", "type": "quantitative"}, "y": {"field": "depth", "type": "quantitative"}}
            },
            {
              "data": {"name": "lakes"},
              "transform": [{"filter": "datum.lake === 'Kingsmere Lake'"}],
              "mark": {"type": "rect", "fill": "#d9d9d9"},
              "encoding": {"x": {"datum": 1.128}, "x2": {"datum": 1.1746}, "y": {"datum": -0.4}, "y2": {"datum": 8.4}}
            },
            {
              "data": {"name": "lakes"},
              "transform": [{"filter": "datum.lake === 'Kingsmere Lake'"}],
              "mark": {"type": "text", "angle": 90, "fontSize": 25, "color": "#1a1a1a", "align": "center", "baseline": "middle"},
              "encoding": {"x": {"datum": 1.1513}, "y": {"datum": 4.0}, "text": {"field": "lake"}}
            }
          ]
        },
        {
          "width": 1066, "height": 185,
          "layer": [
            {
              "data": {"name": "bands_b"},
              "mark": {"type": "rect"},
              "encoding": {
                "x": {"field": "lo", "type": "quantitative", "scale": {"domain": [0.045, 1.128], "nice": false, "zero": false},
                  "axis": {"values": [0.15, 0.3, 0.45, 0.6, 0.75, 0.9, 1.05], "format": ".1f",
                    "labelExpr": "abs(datum.value / 0.3 - round(datum.value / 0.3)) < 0.001 ? datum.label : ''",
                    "labelFontSize": 28, "labelPadding": 7, "tickSize": 6, "labelOverlap": false, "labelFlush": false,
                    "tickOpacity": {"condition": {"test": "abs(datum.value / 0.3 - round(datum.value / 0.3)) < 0.001", "value": 1}, "value": 0},
                    "gridWidth": {"condition": {"test": "abs(datum.value / 0.3 - round(datum.value / 0.3)) < 0.001", "value": 1.6}, "value": 0.8},
                    "title": ["Total Kjeldahl Nitrogen / Azote Kjeldahl total", "(mg/L)"], "titleFontSize": 29, "titleLineHeight": 33, "titlePadding": 6}},
                "x2": {"field": "hi"},
                "y": {"datum": 0, "type": "quantitative", "scale": {"domain": [-1, 21], "reverse": true, "nice": false, "zero": false},
                  "axis": {"values": [0, 2.5, 5, 7.5, 10, 12.5, 15, 17.5, 20], "format": "d",
                    "labelExpr": "datum.value % 5 === 0 ? datum.label : ''",
                    "labelFontSize": 28, "labelPadding": 5, "tickSize": 5, "labelOverlap": false, "labelFlush": false,
                    "tickOpacity": {"condition": {"test": "datum.value % 5 === 0", "value": 1}, "value": 0},
                    "gridWidth": {"condition": {"test": "datum.value % 5 === 0", "value": 1.6}, "value": 0.8},
                    "title": null}},
                "y2": {"datum": 21},
                "color": {"field": "band", "type": "nominal", "scale": {"domain": ["good", "fair", "poor"], "range": ["rgba(0,255,0,0.25)", "rgba(255,255,0,0.25)", "rgba(255,0,0,0.25)"]}, "legend": null}
              }
            },
            {
              "data": {"name": "contours_e"},
              "mark": {"type": "line", "interpolate": "cardinal-closed", "tension": 0.3, "stroke": "#000000", "strokeWidth": 1.3, "fillOpacity": 0.26},
              "encoding": {
                "x": {"field": "tkn", "type": "quantitative"},
                "y": {"field": "depth", "type": "quantitative"},
                "detail": {"field": "ring", "type": "nominal"},
                "order": {"field": "i", "type": "quantitative"},
                "fill": {"field": "level", "type": "quantitative", "scale": {"domain": [0, 0.35, 0.7, 1], "range": ["#80e614", "#c8c800", "#ff8c00", "#ff1a00"]}, "legend": null}
              }
            },
            {
              "data": {"name": "samples"},
              "transform": [{"filter": "datum.lake === 'Meech Lake'"}],
              "mark": {"type": "point", "filled": true, "size": 270, "color": "#990000", "opacity": 1},
              "encoding": {"x": {"field": "tkn", "type": "quantitative"}, "y": {"field": "depth", "type": "quantitative"}}
            },
            {
              "data": {"name": "lakes"},
              "transform": [{"filter": "datum.lake === 'Meech Lake'"}],
              "mark": {"type": "rect", "fill": "#d9d9d9"},
              "encoding": {"x": {"datum": 1.128}, "x2": {"datum": 1.1746}, "y": {"datum": -1}, "y2": {"datum": 21}}
            },
            {
              "data": {"name": "lakes"},
              "transform": [{"filter": "datum.lake === 'Meech Lake'"}],
              "mark": {"type": "text", "angle": 90, "fontSize": 25, "color": "#1a1a1a", "align": "center", "baseline": "middle"},
              "encoding": {"x": {"datum": 1.1513}, "y": {"datum": 10.0}, "text": {"field": "lake"}}
            }
          ]
        }
      ]
    }
  ],
  "config": {
    "font": "Liberation Sans",
    "view": {"fill": "#ebebeb", "stroke": null},
    "axis": {
      "domain": false,
      "gridColor": "#ffffff",
      "gridOpacity": 1,
      "tickColor": "#333333",
      "tickWidth": 1.1,
      "labelColor": "#4d4d4d",
      "labelFont": "Liberation Sans",
      "titleFont": "Liberation Sans",
      "titleColor": "#000000",
      "titleFontWeight": "normal"
    }
  }
}
